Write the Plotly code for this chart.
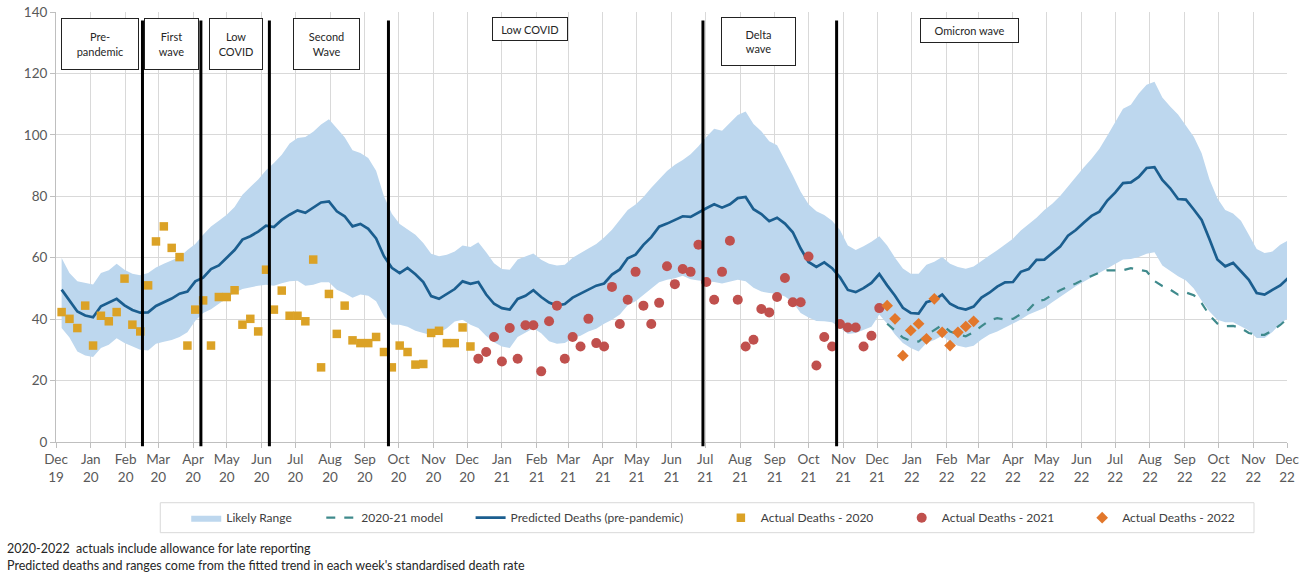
import pandas as pd
import plotly.graph_objects as go

# ---------------- data ----------------
week_start = "2019-12-06"
n_weeks = 157

predicted = [
    49.6, 46, 42.5, 41.2, 40.6, 44.2, 45.3, 46.6, 44.5, 43, 42.1, 42.2, 44.3, 45.5, 46.7, 48.3, 49, 52.3, 53.5, 56.3,
    57.5, 60, 62.5, 65.9, 67, 68.5, 70.4, 70, 72.3, 74, 75.4, 74.6, 76.2, 78, 78.3, 75.1, 73.5, 70.2, 71, 69.4,
    66.3, 60.5, 56.7, 55, 56.7, 54.6, 52.1, 47.5, 46.6,
    48.3, 49.8, 52.3, 51.5, 52.1, 48, 45, 43.6, 43.1, 46.6, 47.6, 49.4, 47.2, 45.4, 44.4, 44.9, 47, 48.3, 49.5, 50.9,
    51.6, 54.5, 56.2, 59.8, 61, 64.2, 66.7, 70.1, 71.1, 72.3, 73.5, 73.3, 74.8, 76.1, 77.4, 76.3, 77.4, 79.4, 79.8, 75.8,
    74.2, 71.9, 73, 71.1, 68.3, 63, 58.6, 57, 58.5, 56.6, 53.6, 49.5, 48.8, 50.1, 51.8,
    54.7, 51, 47.6, 43.7, 42, 41.8, 45.5, 46.3, 48, 45, 43.7, 43.1, 44.1, 47, 48.6, 50.6, 52, 52.1, 55.4, 56.3,
    59.3, 59.4, 61.6, 63.6, 67.2, 69, 71.4, 73.6, 75, 78.6, 81.2, 84.3, 84.5, 86.3, 89.2, 89.5, 85.3, 82.6, 79.1, 78.9,
    75.7, 72.3, 66, 59.4, 57.2, 58.3, 55.6, 52.8, 48.5, 48, 49.5, 51, 53.4,
]

upper = [
    59.9, 55, 52.3, 51.8, 51.3, 55, 55.9, 58, 56.1, 54.8, 54.3, 55, 56.8, 58, 59, 60.2, 62.5, 64.5, 67.5, 70.2,
    72, 74, 76.5, 80.5, 83, 85.5, 88.5, 90.8, 93.5, 97.2, 99, 99.3, 101, 103.4, 105.1, 102.2, 99.2, 95, 94.1, 92.5,
    88.3, 80, 74.3, 71, 69.3, 67.5, 64.8, 61.3, 60.5,
    61, 62, 64, 63.5, 65, 61.8, 58.2, 56.3, 56.1, 59.4, 60.4, 61.4, 59.3, 58, 57.5, 57.7, 60, 61.6, 63, 64.5,
    66.6, 69.1, 72.3, 75.5, 77.3, 79.8, 82.8, 85.5, 88.2, 90.3, 91.8, 93.7, 96.3, 99.3, 102, 101.3, 103.8, 106.5, 107.6, 103.5,
    101.2, 97.9, 96.6, 91.9, 86.8, 81.5, 77.4, 75.1, 73.9, 72, 69, 64, 62.5, 63.7, 65.2,
    67, 64, 60, 56.5, 54.8, 54.8, 57.7, 58.7, 60.2, 58, 57, 56.4, 57.1, 59, 60.7, 62.4, 64.3, 66.2, 68.9, 71,
    73, 75.5, 77.6, 80.1, 83.3, 86.5, 89.4, 92.2, 95.5, 99.7, 104.2, 108.5, 109.8, 113.5, 116.3, 117.3, 112.2, 109.2, 106.6, 103,
    99.4, 94, 85.5, 79.4, 75.5, 74.4, 72, 67.5, 62.8, 61.5, 62, 64.2, 65.6,
]

lower = [
    37.1, 34, 29.5, 28.2, 27.7, 30.6, 31.7, 33.8, 32.2, 31, 30, 29.8, 32, 32.6, 33.2, 34.2, 35.7, 39.5, 42, 43.2,
    45, 46.8, 48.6, 49.8, 50.4, 50.9, 51.2, 50.9, 51.7, 52.3, 52.5, 50.9, 51.2, 52, 52, 49.6, 48.4, 47, 48, 47.6,
    45.8, 41, 38.2, 38.2, 37.5, 36.2, 35.5, 34.8, 35.5,
    37, 39.2, 39.8, 38.2, 37.1, 34.5, 32.5, 31.1, 30.6, 34.2, 35.5, 37, 35.4, 32.8, 32, 32.2, 33.8, 34.6, 36, 36.9,
    38.5, 39.8, 41.5, 44.5, 45.8, 47.8, 50, 52, 52.8, 53.3, 54.1, 53, 52.6, 52.4, 52.1, 51.6, 52.3, 52.8, 52.3, 50.2,
    49, 48.5, 48.3, 47.4, 45.5, 42, 40.5, 39.4, 39.3, 39, 37.3, 35.2, 35.5, 36.5, 37.5,
    41.5, 38.5, 35, 32.2, 30.6, 29.5, 32.2, 33.2, 34.6, 32.6, 31.3, 30.8, 31.3, 33.4, 35, 36, 37.3, 38.5, 39.9, 41.5,
    42.5, 43.6, 45.5, 47.3, 49, 50.7, 52.2, 53.6, 55, 56.6, 58, 59.4, 59.6, 60.2, 61.3, 61.8, 57.5, 55.8, 54, 52.6,
    50, 46, 42.5, 39.8, 39, 39, 37.7, 36.3, 33.9, 33.9, 35.8, 38.5, 40.4,
]

# 2020-21 model starts at week index 105
model_start = 105
model_2021 = [
    38.5, 36.3, 34, 32.9, 32.7, 34.8, 36.5, 38.1, 36, 35, 34.4, 35.8, 37.7, 39.6, 40.3, 39.9, 40.1, 41.6, 43.1, 45.8,
    46.3, 47.9, 49.4, 50.6, 51.6, 52.9, 54.1, 55.2, 55.9, 56, 55.9, 56.6, 56.2, 55.6, 52.4, 50.8, 49.6, 48, 48.7, 47.8,
    45.2, 41.3, 38.6, 37.7, 37.8, 37.1, 35.5, 34.9, 34.9, 36.3, 38.1, 40.4,
]

actual_2020 = [
    42.3, 40.1, 37.1, 44.4, 31.4, 41.1, 39.3, 42.3, 53.2, 38.2, 36, 51, 65.3, 70.2, 63.2, 60.2, 31.4, 43.1, 46.1, 31.4,
    47.2, 47.2, 49.4, 38.2, 40.1, 36, 56.1, 43.1, 49.3, 41.1, 41.1, 39.3, 59.4, 24.3, 48.2, 35.2, 44.4, 33.1, 32.2, 32.2,
    34.2, 29.3, 24.3, 31.4, 29.3, 25.2, 25.4, 35.5, 36.2, 32.2, 32.2, 37.3, 31.1,
]
start_2021 = 53
actual_2021 = [
    27.1, 29.3, 34.2, 26.2, 37.1, 27.1, 38, 38, 23, 39.3, 44.4, 27.1, 34.2, 31.1, 40.1, 32.2, 31.1, 50.5, 38.4, 46.3,
    55.4, 44.4, 38.4, 45.3, 57.2, 51.4, 56.3, 55.4, 64.2, 52.1, 46.3, 55.4, 65.5, 46.3, 31.1, 33.3, 43.3, 42.2, 47.2, 53.4,
    45.5, 45.5, 60.4, 24.9, 34.2, 31.1, 38.4, 37.3, 37.3, 31.1, 34.6, 43.6,
]
start_2022 = 105
actual_2022 = [44.4, 40.1, 28.1, 36.3, 38.5, 33.6, 46.6, 35.7, 31.4, 35.7, 37.6, 39.3]

month_ticks = pd.date_range("2019-12-01", "2022-12-01", freq="MS")
month_labels = [f"{d.strftime('%b')}<br>{d.strftime('%y')}" for d in month_ticks]

phase_boundaries = ["2020-02-16", "2020-04-08", "2020-06-08", "2020-09-22", "2021-06-29", "2021-10-26"]

phase_labels = [
    ("Pre-<br>pandemic", 0.036, 0.926, 76, 50),
    ("First<br>wave", 0.094, 0.926, 53, 50),
    ("Low<br>COVID", 0.1464, 0.926, 52, 50),
    ("Second<br>Wave", 0.2194, 0.926, 65, 50),
    ("Low COVID", 0.3852, 0.960, 74, 22),
    ("Delta<br>wave", 0.571, 0.931, 73, 47),
    ("Omicron wave", 0.7417, 0.9577, 97, 23),
]

footnotes = [
    "2020-2022  actuals include allowance for late reporting",
    "Predicted deaths and ranges come from the fitted trend in each week's standardised death rate",
]

# ---------------- figure ----------------
weeks = pd.date_range(week_start, periods=n_weeks, freq="7D")

FONT = "Lato"
BAND = "#bdd7ee"
PRED = "#1b5e8f"
MODEL = "#3f8a8c"
C2020 = "#dba226"
C2021 = "#c0504d"
C2022 = "#e2772b"

fig = go.Figure()

fig.add_trace(go.Scatter(x=weeks, y=lower, mode="lines", line=dict(width=0, color=BAND),
                         showlegend=False, hoverinfo="skip"))
fig.add_trace(go.Scatter(x=weeks, y=upper, mode="lines", line=dict(width=0, color=BAND),
                         fill="tonexty", fillcolor=BAND, name="Likely Range", legend="legend"))
fig.add_trace(go.Scatter(x=weeks[model_start:model_start + len(model_2021)], y=model_2021, mode="lines",
                         line=dict(color=MODEL, width=2.2, dash="dash"), name="2020-21 model", legend="legend2"))
fig.add_trace(go.Scatter(x=weeks, y=predicted, mode="lines", line=dict(color=PRED, width=2.7),
                         name="Predicted Deaths (pre-pandemic)", legend="legend3"))
fig.add_trace(go.Scatter(x=weeks[:len(actual_2020)], y=actual_2020, mode="markers",
                         marker=dict(symbol="square", size=8.5, color=C2020),
                         name="Actual Deaths - 2020", legend="legend4"))
fig.add_trace(go.Scatter(x=weeks[start_2021:start_2021 + len(actual_2021)], y=actual_2021, mode="markers",
                         marker=dict(symbol="circle", size=10, color=C2021),
                         name="Actual Deaths - 2021", legend="legend5"))
fig.add_trace(go.Scatter(x=weeks[start_2022:start_2022 + len(actual_2022)], y=actual_2022, mode="markers",
                         marker=dict(symbol="diamond", size=9, color=C2022),
                         name="Actual Deaths - 2022", legend="legend6"))

shapes = []
for d in phase_boundaries:
    shapes.append(dict(type="line", xref="x", yref="paper", x0=d, x1=d, y0=-0.01, y1=0.98,
                       line=dict(color="black", width=3), layer="above"))
# legend frame
shapes.append(dict(type="rect", xref="paper", yref="paper", x0=0.0847, x1=0.9732, y0=-0.1412, y1=-0.2109,
                   line=dict(color="#d9d9d9", width=1), fillcolor="rgba(0,0,0,0)"))

annotations = []
for text, ax, ay, w, h in phase_labels:
    annotations.append(dict(text=text, xref="paper", yref="paper", x=ax, y=ay, xanchor="center",
                            yanchor="middle", showarrow=False, width=w, height=h, align="center",
                            bordercolor="#222222", borderwidth=1, borderpad=0, bgcolor="white",
                            font=dict(family=FONT, size=11, color="#262626")))
for i, t in enumerate(footnotes):
    annotations.append(dict(text=t, xref="paper", yref="paper", x=-0.0412, y=-0.248 - 0.0397 * i,
                            xanchor="left", yanchor="middle", showarrow=False,
                            font=dict(family=FONT, size=12.5, color="#262626")))

legend_common = dict(orientation="h", yref="paper", y=-0.176, yanchor="middle", xanchor="left",
                     bgcolor="rgba(0,0,0,0)", borderwidth=0,
                     font=dict(family=FONT, size=12, color="#404040"))
legend_x = [0.1058, 0.2155, 0.3368, 0.5401, 0.6870, 0.8336]

layout_legends = {}
for k, lx in enumerate(legend_x):
    key = "legend" if k == 0 else f"legend{k + 1}"
    layout_legends[key] = dict(x=lx, **legend_common)

fig.update_layout(
    width=1304, height=578,
    margin=dict(l=55.7, r=17, t=12.3, b=135.7, autoexpand=False),
    paper_bgcolor="white", plot_bgcolor="white",
    font=dict(family=FONT, color="#595959"),
    shapes=shapes, annotations=annotations,
    hovermode=False,
    **layout_legends,
)

fig.update_xaxes(
    type="date", range=[month_ticks[0], month_ticks[-1]],
    tickmode="array", tickvals=month_ticks, ticktext=month_labels,
    showgrid=True, gridcolor="#d9d9d9", gridwidth=1,
    showline=True, linecolor="#bfbfbf", linewidth=1,
    ticks="outside", ticklen=5, tickcolor="#bfbfbf",
    tickfont=dict(family=FONT, size=13.5, color="#595959"),
    zeroline=False, automargin=False,
)
fig.update_yaxes(
    range=[0, 140], dtick=20, tick0=0,
    showgrid=True, gridcolor="#d9d9d9", gridwidth=1,
    showline=True, linecolor="#bfbfbf", linewidth=1,
    ticks="outside", ticklen=5, tickcolor="#bfbfbf",
    tickfont=dict(family=FONT, size=13.5, color="#595959"),
    zeroline=False, automargin=False,
)

fig.write_html("out.html", config={"displayModeBar": False},
               post_script="document.body.style.margin='0';document.body.style.padding='0';")
